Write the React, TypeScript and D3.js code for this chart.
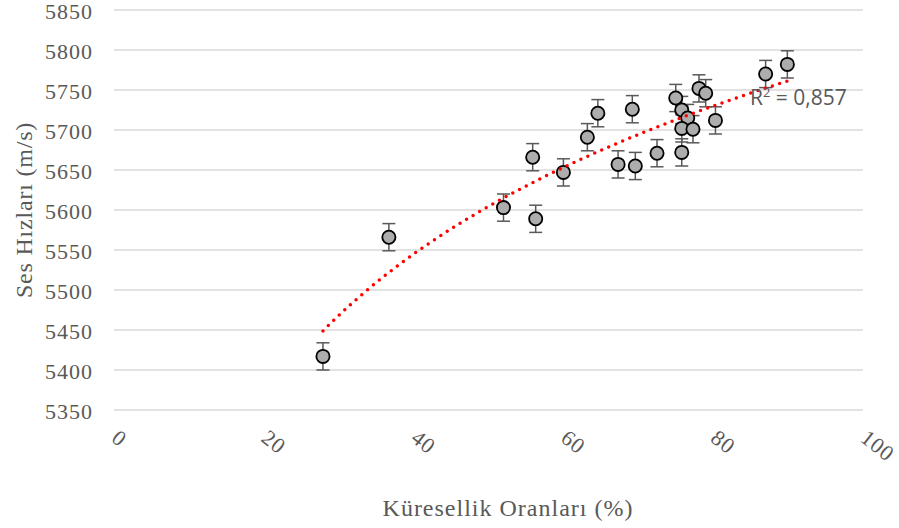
import React from "react";
import * as d3 from "d3";

const xValues = [27.9, 36.7, 52.0, 55.9, 56.3, 60.0, 63.2, 64.6, 67.3, 69.2, 69.6, 72.5, 75.0, 75.8, 76.6, 75.8, 77.3, 75.8, 78.1, 79.0, 80.3, 87.0, 89.9];
const yValues = [5417, 5566, 5603, 5666, 5589, 5647, 5691, 5721, 5657, 5726, 5655, 5671, 5740, 5725, 5715, 5702, 5701, 5672, 5752, 5746, 5712, 5770, 5782];
const errValues = [17, 17, 17, 17, 17, 17, 17, 17, 17, 17, 17, 17, 17, 17, 17, 17, 17, 17, 17, 17, 17, 17, 17];
const xTicks = [0, 20, 40, 60, 80, 100];
const yTicks = [5350, 5400, 5450, 5500, 5550, 5600, 5650, 5700, 5750, 5800, 5850];
// logarithmic trendline y = a*ln(x) + b
const trendCoef = [267, 4560];
const r2Label = "0,857";

export default function App() {
  const W = 899, H = 528;
  const x = d3.scaleLinear().domain([0, 100]).range([114, 863]);
  const y = d3.scaleLinear().domain([5350, 5850]).range([410, 10]);

  const [a, b] = trendCoef;
  const xmin = d3.min(xValues)!, xmax = d3.max(xValues)!;
  const trendPts = d3.range(0, 101).map(i => {
    const xv = xmin + (xmax - xmin) * i / 100;
    return [xv, a * Math.log(xv) + b] as [number, number];
  });
  const line = d3.line<[number, number]>().x(d => x(d[0])).y(d => y(d[1]));

  const grey = "#595959";
  const serif = "'Liberation Serif', 'Times New Roman', serif";

  return (
    <svg width={W} height={H} style={{ position: "absolute", left: 0, top: 0, background: "#fff" }}>
      {yTicks.map(t => (
        <g key={t}>
          <line x1={114} x2={863} y1={y(t)} y2={y(t)} stroke="#d9d9d9" strokeWidth={1.3} />
          <text x={93} y={y(t) + 1.5} textAnchor="end" dominantBaseline="central" fontFamily={serif} fontSize={22} letterSpacing={1} fill={grey}>{t}</text>
        </g>
      ))}
      {xTicks.map(t => (
        <text key={t} transform={`translate(${x(t) + 6},${428}) rotate(38)`} dominantBaseline="hanging" fontFamily={serif} fontSize={22} letterSpacing={0.8} fill={grey}>{t}</text>
      ))}
      <text transform={`translate(24,210) rotate(-90)`} textAnchor="middle" dominantBaseline="central" fontFamily={serif} fontSize={24} letterSpacing={0.8} fill={grey}>Ses Hızları (m/s)</text>
      <text x={508} y={508} textAnchor="middle" dominantBaseline="central" fontFamily={serif} fontSize={24} letterSpacing={1} fill={grey}>Küresellik Oranları (%)</text>

      {xValues.map((xv, i) => {
        const cx = x(xv), cy = y(yValues[i]);
        const y1 = y(yValues[i] + errValues[i]), y2 = y(yValues[i] - errValues[i]);
        return (
          <g key={"e" + i} stroke={grey} strokeWidth={1.5}>
            <line x1={cx} x2={cx} y1={y1} y2={y2} />
            <line x1={cx - 6.5} x2={cx + 6.5} y1={y1} y2={y1} />
            <line x1={cx - 6.5} x2={cx + 6.5} y1={y2} y2={y2} />
          </g>
        );
      })}
      {xValues.map((xv, i) => (
        <circle key={"c" + i} cx={x(xv)} cy={y(yValues[i])} r={6.6} fill="#adadad" stroke="#000" strokeWidth={1.8} />
      ))}
      <path d={line(trendPts)!} fill="none" stroke="#ff0000" strokeWidth={3.5} strokeDasharray="0 7.6" strokeLinecap="round" />
      <text x={750} y={105} fontFamily="'Open Sans', 'Liberation Sans', sans-serif" fontSize={21} fill={grey}>
        R<tspan dy={-8} fontSize={13}>2</tspan><tspan dy={8}>{" = " + r2Label}</tspan>
      </text>
    </svg>
  );
}
